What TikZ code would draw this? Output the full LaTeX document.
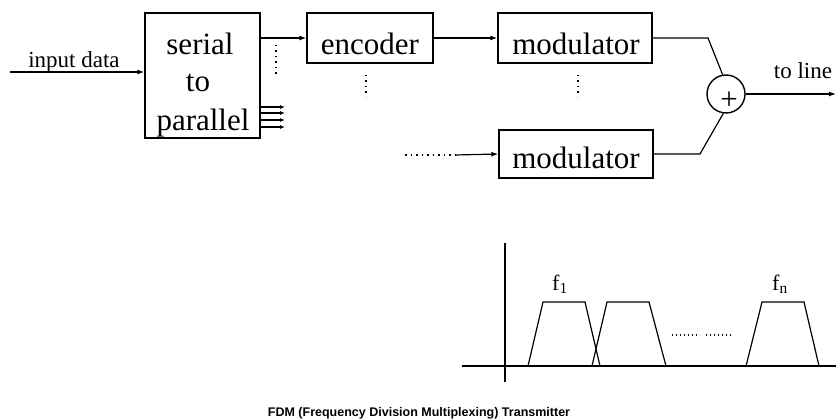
\documentclass[tikz,border=0pt]{standalone}
\usepackage{fontspec}
\setmainfont{Liberation Serif}
\newfontfamily\titlefont{Liberation Sans}
\usetikzlibrary{arrows.meta}
\begin{document}
\begin{tikzpicture}[x=1pt,y=-1pt,
  ln/.style={line width=1.2pt},
  arr/.style={ln,-{Latex[length=7pt,width=5pt]}},
  blk/.style={draw,line width=1.4pt,inner sep=0pt},
  big/.style={font=\fontsize{31}{31}\selectfont,inner sep=0pt,anchor=base},
  mid/.style={font=\fontsize{23}{23}\selectfont,inner sep=0pt,anchor=base},
  dots/.style={line width=1.3pt,dash pattern=on 1.5pt off 4pt},
]
\useasboundingbox (0,0) rectangle (836,420);
% blocks
\node[blk,minimum width=115pt,minimum height=125pt] (sp) at (202.5,75.5) {};
\node[big] (sp1) at (200,55) {serial};
\node[big] (sp2) at (198,92) {to};
\node[big] (sp3) at (203,131) {parallel};
\node[blk,minimum width=126pt,minimum height=50pt] (enc) at (370,38) {};
\node[big] (enct) at (370,55) {encoder};
\node[blk,minimum width=154pt,minimum height=50pt] (mod1) at (575,38) {};
\node[big] (mod1t) at (576,55) {modulator};
\node[blk,minimum width=154pt,minimum height=48pt] (mod2) at (576,154) {};
\node[big] (mod2t) at (576,168) {modulator};
\node[draw,circle,line width=1.4pt,minimum size=38pt,inner sep=0pt] (add) at (726,94) {};
\node[font=\fontsize{31}{31}\selectfont,inner sep=0pt] (plus) at (729,101) {+};
% labels
\node[mid] (inlab) at (74,68) {input data};
\node[mid] (outlab) at (803,79) {to line};
% connectors
\coordinate (in) at (10,72);
\draw[arr] (in) -- (sp.west |- in);
\draw[arr] (sp.east |- enc.west) -- (enc.west);
\draw[arr] (enc.east) -- (mod1.west);
\coordinate (dl) at (405,155);
\coordinate (dr) at (455,155);
\draw[dots] (dl) -- (dr);
\draw[arr] (dr) -- (mod2.west);
\coordinate (k1) at (708,38);
\coordinate (k2) at (700,154);
\draw[ln] (mod1.east) -- (k1) -- (add.100);
\draw[ln] (mod2.east) -- (k2) -- (add.262);
\coordinate (out) at (836,94);
\draw[arr] (add.east) -- (out);
% small parallel arrows
\foreach \yy/\nm in {107/a,113/b,120/c,127/d}{
  \coordinate (pe\nm) at (285,\yy);
  \draw[ln,-{Latex[length=5pt,width=4pt]}] (sp.east |- pe\nm) -- (pe\nm);
}
% vertical dots
\coordinate (v1a) at (276,45); \coordinate (v1b) at (276,77);
\coordinate (v2a) at (366,75); \coordinate (v2b) at (366,97);
\coordinate (v3a) at (578,75); \coordinate (v3b) at (578,97);
\draw[dots] (v1a) -- (v1b);
\draw[dots] (v2a) -- (v2b);
\draw[dots] (v3a) -- (v3b);
% spectrum
\coordinate (ya) at (505,243); \coordinate (yb) at (505,382);
\coordinate (xa) at (462,366); \coordinate (xb) at (836,366);
\draw[ln] (ya) -- (yb);
\draw[ln] (xa) -- (xb);
\draw[ln] (528,366) -- (543,302) -- (585,302) -- (600,366);
\draw[ln] (592,366) -- (607,302) -- (649,302) -- (666,366);
\draw[ln] (746,366) -- (762,302) -- (804,302) -- (819,366);
\coordinate (sd1) at (672,335); \coordinate (sd2) at (700,335);
\coordinate (sd3) at (706,335); \coordinate (sd4) at (733,335);
\draw[line width=1.1pt,dash pattern=on 1.2pt off 2.8pt] (sd1) -- (sd2);
\draw[line width=1.1pt,dash pattern=on 1.2pt off 2.8pt] (sd3) -- (sd4);
\node[font=\fontsize{22}{22}\selectfont,inner sep=0pt,anchor=base] (f1) at (560,290) {f\textsubscript{1}};
\node[font=\fontsize{22}{22}\selectfont,inner sep=0pt,anchor=base] (fn) at (780,290) {f\textsubscript{n}};
% title
\node[font=\titlefont\bfseries\fontsize{12.5}{12.5}\selectfont,inner sep=0pt] (title) at (419,413) {FDM (Frequency Division Multiplexing) Transmitter};
\end{tikzpicture}
\end{document}
